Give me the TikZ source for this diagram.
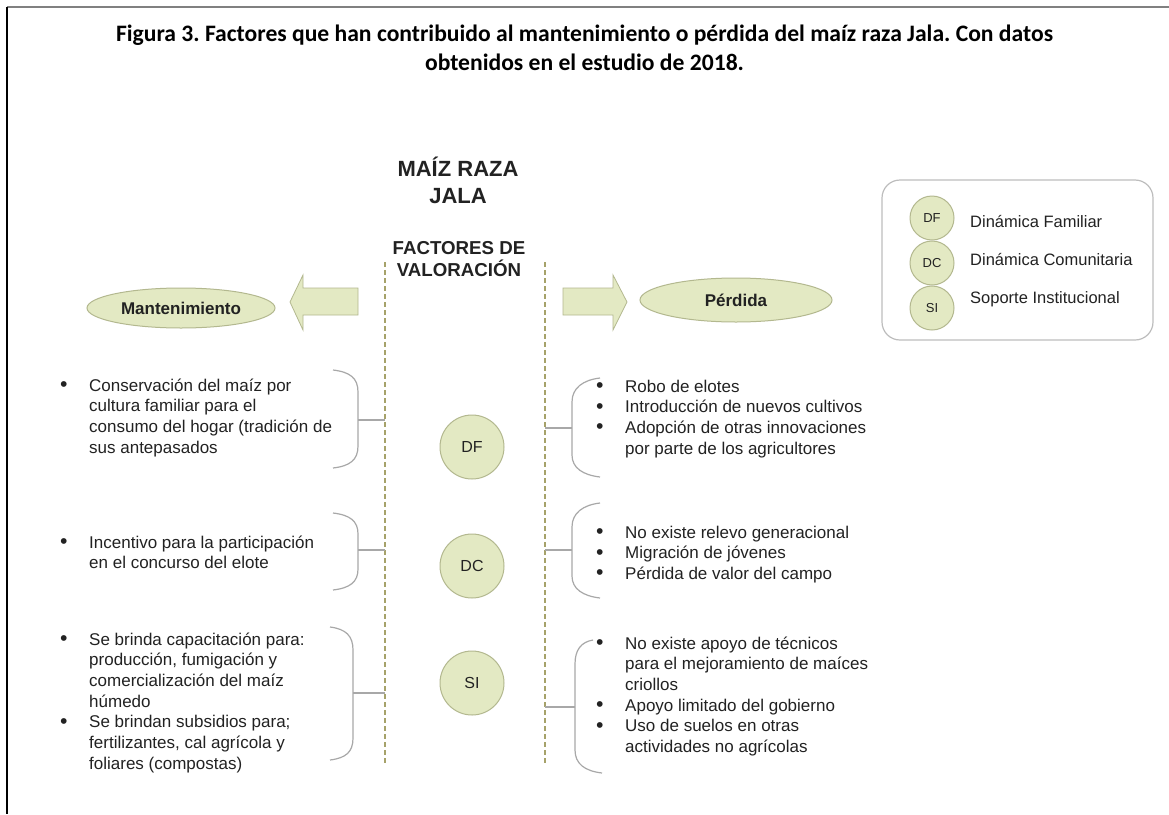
\documentclass[tikz,border=0pt]{standalone}
\usepackage{fontspec}
\setmainfont{Liberation Sans}
\newfontfamily\titlefont{Carlito}
\usetikzlibrary{shapes.geometric}
\definecolor{ovfill}{HTML}{E3E9C3}
\definecolor{ovdraw}{HTML}{B3B88F}
\definecolor{dashcol}{HTML}{A6A26A}
\definecolor{brcol}{HTML}{A8A8A8}
\definecolor{txt}{HTML}{222222}
\definecolor{legdraw}{HTML}{BDBDBD}
\newcommand{\bul}{\makebox[29pt][l]{\raisebox{-0.5pt}{\scalebox{1.25}{\textbullet}}}}
\frenchspacing
\begin{document}
\begin{tikzpicture}[x=1pt,y=-1pt,
  body/.style={inner sep=0pt, anchor=base west, text=txt, font=\fontsize{17}{20.7}\selectfont},
  head/.style={inner sep=0pt, anchor=base, text=txt},
  oval/.style={ellipse, draw=ovdraw, fill=ovfill, line width=1pt, inner sep=0pt, text=txt, font=\bfseries\fontsize{17}{20}\selectfont},
  factor/.style={circle, draw=ovdraw, fill=ovfill, line width=1pt, inner sep=0pt, minimum size=64pt, text=txt, font=\fontsize{16}{18}\selectfont},
  legcirc/.style={circle, draw=ovdraw, fill=ovfill, line width=1pt, inner sep=0pt, minimum size=44pt, text=txt, font=\fontsize{13}{15}\selectfont},
  leglabel/.style={inner sep=0pt, anchor=base west, text=txt, font=\fontsize{16.5}{20}\selectfont},
  bigarrow/.style={fill=ovfill, draw=ovdraw, line width=0.8pt, line join=miter},
  divider/.style={draw=dashcol, line width=1.4pt, dash pattern=on 5pt off 3pt},
  bracket/.style={draw=brcol, line width=1.2pt}]
\useasboundingbox (0,0) rectangle (1169,814);
\fill[white] (0,0) rectangle (1169,814);
% frame
\coordinate (ftl) at (7,7);
\coordinate (ftr) at (1169,7);
\coordinate (fbl) at (7,814);
\draw[gray, line width=1.5pt] (ftl) -- (ftr);
\draw[black, line width=1.5pt] (ftl) -- (fbl);
% title
\node[anchor=base, inner sep=0pt] (title) at (584.5,41) {\titlefont\bfseries\fontsize{23.6}{29}\selectfont
  \begin{tabular}[t]{@{}c@{}}Figura 3. Factores que han contribuido al mantenimiento o pérdida del maíz raza Jala. Con datos\\ obtenidos en el estudio de 2018.\end{tabular}};
% headings
\node[head, font=\bfseries\fontsize{22}{27}\selectfont] (maiz) at (458,176) {\begin{tabular}[t]{@{}c@{}}MAÍZ RAZA\\JALA\end{tabular}};
\node[head, font=\bfseries\fontsize{18.7}{21}\selectfont] (factores) at (459,254) {\begin{tabular}[t]{@{}c@{}}FACTORES DE\\VALORACIÓN\end{tabular}};
% dashed dividers
\coordinate (dlt) at (385,262);
\coordinate (dlb) at (385,764);
\coordinate (drt) at (545,262);
\coordinate (drb) at (545,764);
\draw[divider] (dlt) -- (dlb);
\draw[divider] (drt) -- (drb);
% arrows
\draw[bigarrow] (290,302) -- (303,275) -- (303,288) -- (358,288) -- (358,315) -- (303,315) -- (303,330) -- cycle;
\draw[bigarrow] (627,302) -- (613,275) -- (613,288) -- (563,288) -- (563,315) -- (613,315) -- (613,330) -- cycle;
% ovals
\node[oval, minimum width=188pt, minimum height=40pt] (mant) at (181,308) {Mantenimiento};
\node[oval, minimum width=192pt, minimum height=44pt] (perd) at (736,300) {Pérdida};
% factor circles
\node[factor] (df) at (472,447) {DF};
\node[factor] (dc) at (472,566) {DC};
\node[factor] (si) at (472,683) {SI};
% left brackets
\coordinate (lbt1) at (333,370); \coordinate (lbb1) at (333,468); \coordinate (lbm1) at (358,420); \coordinate (lbd1) at (385,420);
\draw[bracket] (lbt1) .. controls (350,372) and (358,378) .. (358,392) -- (358,446) .. controls (358,460) and (350,466) .. (lbb1);
\draw[bracket] (lbm1) -- (lbd1);
\coordinate (lbt2) at (333,513); \coordinate (lbb2) at (333,590); \coordinate (lbm2) at (358,550); \coordinate (lbd2) at (385,550);
\draw[bracket] (lbt2) .. controls (350,515) and (358,521) .. (358,534) -- (358,569) .. controls (358,582) and (350,588) .. (lbb2);
\draw[bracket] (lbm2) -- (lbd2);
\coordinate (lbt3) at (330,627); \coordinate (lbb3) at (330,760); \coordinate (lbm3) at (353,693); \coordinate (lbd3) at (385,693);
\draw[bracket] (lbt3) .. controls (346,629) and (353,636) .. (353,650) -- (353,738) .. controls (353,752) and (346,758) .. (lbb3);
\draw[bracket] (lbm3) -- (lbd3);
% right brackets
\coordinate (rbt1) at (600,378); \coordinate (rbb1) at (600,477); \coordinate (rbm1) at (572,428); \coordinate (rbd1) at (545,428);
\draw[bracket] (rbt1) .. controls (583,380) and (572,388) .. (572,402) -- (572,455) .. controls (572,468) and (583,475) .. (rbb1);
\draw[bracket] (rbm1) -- (rbd1);
\coordinate (rbt2) at (600,503); \coordinate (rbb2) at (600,598); \coordinate (rbm2) at (572,550); \coordinate (rbd2) at (545,550);
\draw[bracket] (rbt2) .. controls (583,505) and (572,513) .. (572,527) -- (572,576) .. controls (572,589) and (583,596) .. (rbb2);
\draw[bracket] (rbm2) -- (rbd2);
\coordinate (rbt3) at (593,640); \coordinate (rbb3) at (602,773); \coordinate (rbm3) at (575,707); \coordinate (rbd3) at (545,707);
\draw[bracket] (rbt3) .. controls (581,642) and (575,650) .. (575,664) -- (575,750) .. controls (575,764) and (585,771) .. (rbb3);
\draw[bracket] (rbm3) -- (rbd3);
% left texts
\node[body] (ldf) at (60,391) {\begin{tabular}[t]{@{}l@{}}\bul Conservación del maíz por\\ \hspace*{29pt}cultura familiar para el\\ \hspace*{29pt}consumo del hogar (tradición de\\ \hspace*{29pt}sus antepasados\end{tabular}};
\node[body] (ldc) at (60,548) {\begin{tabular}[t]{@{}l@{}}\bul Incentivo para la participación\\ \hspace*{29pt}en el concurso del elote\end{tabular}};
\node[body] (lsi) at (60,645) {\begin{tabular}[t]{@{}l@{}}\bul Se brinda capacitación para:\\ \hspace*{29pt}producción, fumigación y\\ \hspace*{29pt}comercialización del maíz\\ \hspace*{29pt}húmedo\\ \bul Se brindan subsidios para;\\ \hspace*{29pt}fertilizantes, cal agrícola y\\ \hspace*{29pt}foliares (compostas)\end{tabular}};
% right texts
\node[body] (rdf) at (596,392) {\begin{tabular}[t]{@{}l@{}}\bul Robo de elotes\\ \bul Introducción de nuevos cultivos\\ \bul Adopción de otras innovaciones\\ \hspace*{29pt}por parte de los agricultores\end{tabular}};
\node[body] (rdc) at (596,538) {\begin{tabular}[t]{@{}l@{}}\bul No existe relevo generacional\\ \bul Migración de jóvenes\\ \bul Pérdida de valor del campo\end{tabular}};
\node[body] (rsi) at (596,649) {\begin{tabular}[t]{@{}l@{}}\bul No existe apoyo de técnicos\\ \hspace*{29pt}para el mejoramiento de maíces\\ \hspace*{29pt}criollos\\ \bul Apoyo limitado del gobierno\\ \bul Uso de suelos en otras\\ \hspace*{29pt}actividades no agrícolas\end{tabular}};
% legend
\draw[draw=legdraw, line width=1.2pt, rounded corners=18pt] (882,180) rectangle (1153,340);
\node[legcirc] (ldfc) at (932,218) {DF};
\node[legcirc] (ldcc) at (932,263) {DC};
\node[legcirc] (lsic) at (932,308) {SI};
\node[leglabel] (ldft) at (970,227.5) {Dinámica Familiar};
\node[leglabel] (ldct) at (970,265.5) {Dinámica Comunitaria};
\node[leglabel] (lsit) at (970,303.5) {Soporte Institucional};
\end{tikzpicture}
\end{document}
